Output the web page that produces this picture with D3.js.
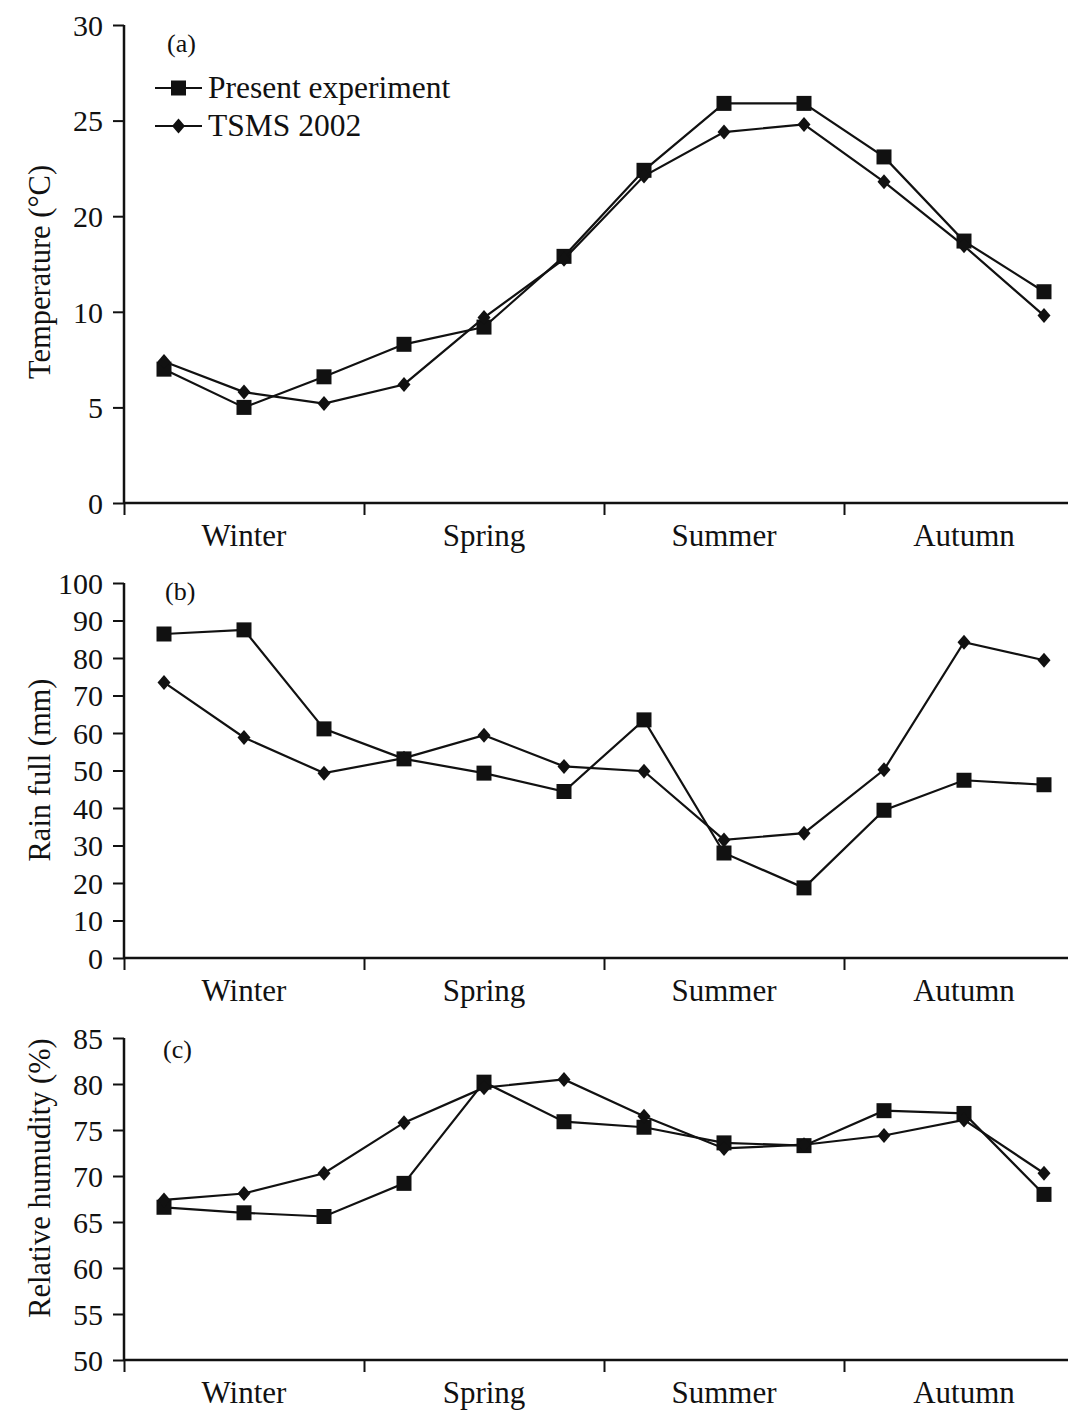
<!DOCTYPE html>
<html>
<head>
<meta charset="utf-8">
<script src="https://cdn.jsdelivr.net/npm/d3@7"></script>
<style>
  body { margin: 0; background: #fff; }
  svg { display: block; font-family: "Liberation Serif", "Times New Roman", serif; }
</style>
</head>
<body>
<div id="chart"></div>
<script>
// months along the x axis (not labelled), seasons below
var months = ["m1", "m2", "m3", "m4", "m5", "m6", "m7", "m8", "m9", "m10", "m11", "m12"];
var seasons = ["Winter", "Spring", "Summer", "Autumn"];
var seriesNames = ["Present experiment", "TSMS 2002"];

// (a) temperature, the printed axis skips 15 so the tick labels are uneven
var tempTicks = [0, 5, 10, 20, 25, 30];
var tempPresent = [7.0, 5.0, 6.6, 8.3, 9.2, 15.8, 22.4, 25.9, 25.9, 23.1, 17.4, 12.1];
var tempTsms = [7.4, 5.8, 5.2, 6.2, 9.7, 15.5, 22.1, 24.4, 24.8, 21.8, 16.9, 9.8];

// (b) rain fall
var rainTicks = [0, 10, 20, 30, 40, 50, 60, 70, 80, 90, 100];
var rainPresent = [86.4, 87.5, 61.1, 53.1, 49.3, 44.4, 63.5, 28.0, 18.7, 39.4, 47.4, 46.2];
var rainTsms = [73.5, 58.8, 49.3, 53.3, 59.4, 51.1, 49.8, 31.5, 33.3, 50.2, 84.2, 79.4];

// (c) relative humidity
var humTicks = [50, 55, 60, 65, 70, 75, 80, 85];
var humPresent = [66.6, 66.0, 65.6, 69.2, 80.2, 75.9, 75.3, 73.6, 73.3, 77.1, 76.8, 68.0];
var humTsms = [67.4, 68.1, 70.3, 75.8, 79.6, 80.5, 76.5, 73.0, 73.4, 74.4, 76.1, 70.3];

var width = 1068, height = 1414;
var left = 124, right = 1084;
var ink = "#111";

var svg = d3.select("#chart").append("svg")
    .attr("width", width)
    .attr("height", height);

var x = d3.scaleBand().domain(months).range([left, right]);
var xMonth = d3.scaleLinear().domain([0, months.length]).range([left, right]);
var xSeason = d3.scaleBand().domain(seasons).range([left, right]);

function px(i) { return x(months[i]) + x.bandwidth() / 2; }

var diamond = {
  draw: function (ctx, size) {
    var w = 6.5, h = 7.5;
    ctx.moveTo(0, -h);
    ctx.lineTo(w, 0);
    ctx.lineTo(0, h);
    ctx.lineTo(-w, 0);
    ctx.closePath();
  }
};
var square = d3.symbol().type(d3.symbolSquare).size(15 * 15);
var diamondSym = d3.symbol().type(diamond);

function panel(p) {
  var y = d3.scaleLinear()
      .domain(p.ticks)
      .range(p.ticks.map(function (t, i) {
        return p.bottom - i * (p.bottom - p.top) / (p.ticks.length - 1);
      }));

  var g = svg.append("g");

  // y axis
  var yAxis = d3.axisLeft(y).tickValues(p.ticks).tickSize(11).tickPadding(10).tickFormat(d3.format("d"));
  var ya = g.append("g")
      .attr("transform", "translate(" + left + ",0)")
      .call(yAxis)
      .attr("font-family", null)
      .attr("font-size", null);
  ya.select(".domain").attr("stroke", ink).attr("stroke-width", 2.5)
      .attr("d", "M0," + p.top + "V" + p.bottom);
  ya.selectAll(".tick line").attr("stroke", ink).attr("stroke-width", 2);
  ya.selectAll(".tick text")
      .attr("fill", ink)
      .style("font-size", "30px")
      .attr("dy", "0.34em");

  // x axis: ticks at season boundaries
  var xAxis = d3.axisBottom(xMonth).tickValues([0, 3, 6, 9]).tickSize(12).tickFormat("");
  var xa = g.append("g")
      .attr("transform", "translate(0," + p.bottom + ")")
      .call(xAxis);
  xa.select(".domain").attr("stroke", ink).attr("stroke-width", 2.5)
      .attr("d", "M" + left + ",0H" + right);
  xa.selectAll(".tick line").attr("stroke", ink).attr("stroke-width", 2);

  g.selectAll(".season")
      .data(seasons)
    .enter().append("text")
      .attr("class", "season")
      .attr("x", function (d) { return xSeason(d) + xSeason.bandwidth() / 2; })
      .attr("y", p.bottom + 43)
      .attr("text-anchor", "middle")
      .attr("fill", ink)
      .style("font-size", "31px")
      .text(function (d) { return d; });

  // axis title
  g.append("text")
      .attr("transform", "translate(" + 50 + "," + p.titleY + ") rotate(-90)")
      .attr("text-anchor", "middle")
      .attr("fill", ink)
      .style("font-size", "30.5px")
      .text(p.title);

  // panel letter
  g.append("text")
      .attr("x", p.letterX)
      .attr("y", p.letterY)
      .attr("fill", ink)
      .style("font-size", "26px")
      .text(p.letter);

  var line = d3.line()
      .x(function (d, i) { return px(i); })
      .y(function (d) { return y(d); });

  [p.present, p.tsms].forEach(function (values, k) {
    g.append("path")
        .datum(values)
        .attr("d", line)
        .attr("fill", "none")
        .attr("stroke", ink)
        .attr("stroke-width", 2.2);

    g.selectAll(".pt" + k)
        .data(values)
      .enter().append("path")
        .attr("class", "pt" + k)
        .attr("transform", function (d, i) { return "translate(" + px(i) + "," + y(d) + ")"; })
        .attr("d", k == 0 ? square() : diamondSym())
        .attr("fill", ink);
  });
}

panel({
  ticks: tempTicks, top: 25, bottom: 503,
  present: tempPresent, tsms: tempTsms,
  title: "Temperature (\u00B0C)", titleY: 272,
  letter: "(a)", letterX: 167, letterY: 52
});
panel({
  ticks: rainTicks, top: 583, bottom: 958,
  present: rainPresent, tsms: rainTsms,
  title: "Rain full (mm)", titleY: 770,
  letter: "(b)", letterX: 165, letterY: 600
});
panel({
  ticks: humTicks, top: 1038, bottom: 1360,
  present: humPresent, tsms: humTsms,
  title: "Relative humudity (%)", titleY: 1178,
  letter: "(c)", letterX: 163, letterY: 1058
});

// legend in panel (a)
var legend = svg.selectAll(".legend")
    .data(seriesNames)
  .enter().append("g")
    .attr("class", "legend")
    .attr("transform", function (d, i) { return "translate(155," + (88 + i * 38) + ")"; });

legend.append("line")
    .attr("x1", 0).attr("x2", 47)
    .attr("stroke", ink)
    .attr("stroke-width", 2.2);

legend.append("path")
    .attr("transform", "translate(23.5,0)")
    .attr("d", function (d, i) { return i == 0 ? square() : diamondSym(); })
    .attr("fill", ink);

legend.append("text")
    .attr("x", 53)
    .attr("y", 10)
    .attr("fill", ink)
    .style("font-size", "31.5px")
    .text(function (d) { return d; });
</script>
</body>
</html>
